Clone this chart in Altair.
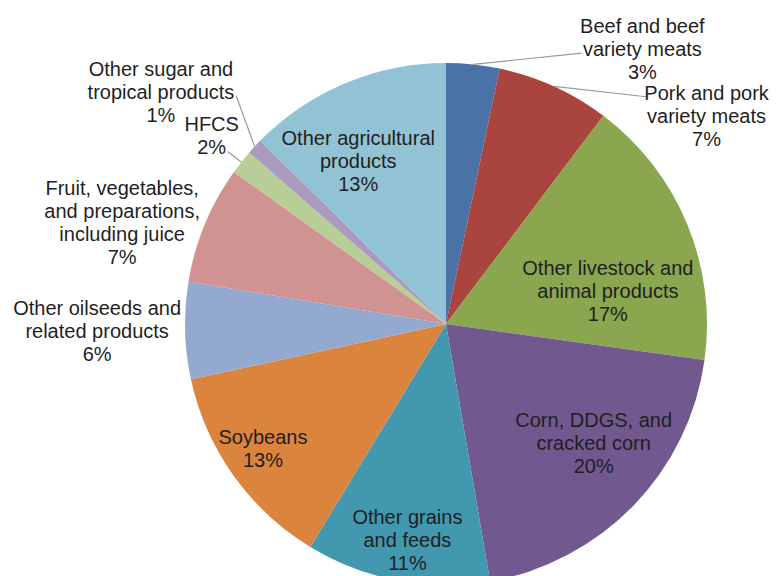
import math
import altair as alt
import pandas as pd

# ---- data ----
categories = [
    "Beef and beef variety meats",
    "Pork and pork variety meats",
    "Other livestock and animal products",
    "Corn, DDGS, and cracked corn",
    "Other grains and feeds",
    "Soybeans",
    "Other oilseeds and related products",
    "Fruit, vegetables, and preparations, including juice",
    "HFCS",
    "Other sugar and tropical products",
    "Other agricultural products",
]
shares = [3.3, 7.0, 16.9, 20.1, 11.4, 12.9, 6.0, 7.3, 1.5, 1.0, 12.6]
pct_labels = ["3%", "7%", "17%", "20%", "11%", "13%", "6%", "7%", "2%", "1%", "13%"]
label_lines = [
    "Beef and beef\nvariety meats",
    "Pork and pork\nvariety meats",
    "Other livestock and\nanimal products",
    "Corn, DDGS, and\ncracked corn",
    "Other grains\nand feeds",
    "Soybeans",
    "Other oilseeds and\nrelated products",
    "Fruit, vegetables,\nand preparations,\nincluding juice",
    "HFCS",
    "Other sugar and\ntropical products",
    "Other agricultural\nproducts",
]

# ---- styling / layout ----
colors = ["#4a72a6", "#a9443f", "#8aa64f", "#71588f", "#4198af", "#db843d",
          "#93a9cf", "#d19392", "#b9cd96", "#a99bbd", "#92c3d4"]
CX, CY, R = 438, 316, 261
LINE_H = 23
# label placement: angular shift (deg) from slice middle, distance from centre (px)
label_shift = [29.7, 27.0, 11.3, -5.1, -0.7, 1.0, 0.1, -5.3, 0.3, -3.8, -5.8]
label_radius = [337, 333, 165, 190, 220, 222, 349, 339, 300, 367, 184]
# leader lines: slice index -> (end angle deg, end radius px)
leaders = {0: (26.6, 303), 1: (41.7, 304), 8: (308.3, 278), 9: (317.4, 310)}

total = sum(shares)
cum = 0.0
rows, lead_rows = [], []
for i, (c, s) in enumerate(zip(categories, shares)):
    mid = cum + s / 2
    cum += s
    label = label_lines[i] + "\n" + pct_labels[i]
    n = label.count("\n") + 1
    # centre of the text block, then move up to the first line's anchor
    a = math.radians(mid / total * 360 + label_shift[i])
    bx = label_radius[i] * math.sin(a)
    by = -label_radius[i] * math.cos(a) - (n - 1) / 2 * LINE_H
    rows.append({
        "idx": i,
        "category": c,
        "share": s,
        "label": label,
        "label_theta": (math.degrees(math.atan2(bx, -by)) % 360) / 360 * total,
        "label_r": math.hypot(bx, by),
    })
    if i in leaders:
        a0 = math.radians(mid / total * 360)
        a1 = math.radians(leaders[i][0])
        r1 = leaders[i][1]
        lead_rows.append({
            "x": CX + R * math.sin(a0), "y": CY - R * math.cos(a0),
            "x2": CX + r1 * math.sin(a1), "y2": CY - r1 * math.cos(a1),
        })

df = pd.DataFrame(rows)
lead_df = pd.DataFrame(lead_rows)

theta_scale = alt.Scale(domain=[0, total], range=[0, 2 * math.pi])

pie = alt.Chart(df).mark_arc(outerRadius=R).encode(
    theta=alt.Theta("share:Q", stack=True, scale=theta_scale),
    color=alt.Color("category:N", scale=alt.Scale(domain=categories, range=colors), legend=None),
    order=alt.Order("idx:Q"),
    x=alt.value(CX),
    y=alt.value(CY),
)

text = alt.Chart(df).mark_text(
    font="Liberation Sans", fontSize=20, lineHeight=LINE_H, lineBreak="\n",
    align="center", baseline="middle", color="#1f1f1f",
).encode(
    theta=alt.Theta("label_theta:Q", stack=False, scale=theta_scale),
    radius=alt.Radius("label_r:Q", scale=None),
    text="label:N",
    x=alt.value(CX),
    y=alt.value(CY),
)

lines = alt.Chart(lead_df).mark_rule(color="#9a9a9a", strokeWidth=1.2).encode(
    x=alt.X("x:Q", scale=None),
    y=alt.Y("y:Q", scale=None),
    x2="x2:Q",
    y2="y2:Q",
)

chart = alt.layer(pie, lines, text).properties(
    width=763, height=568, padding=0,
    autosize=alt.AutoSizeParams(type="none"),
).configure_view(stroke=None)

chart.save("out.html", embed_options={"renderer": "svg", "actions": False})
